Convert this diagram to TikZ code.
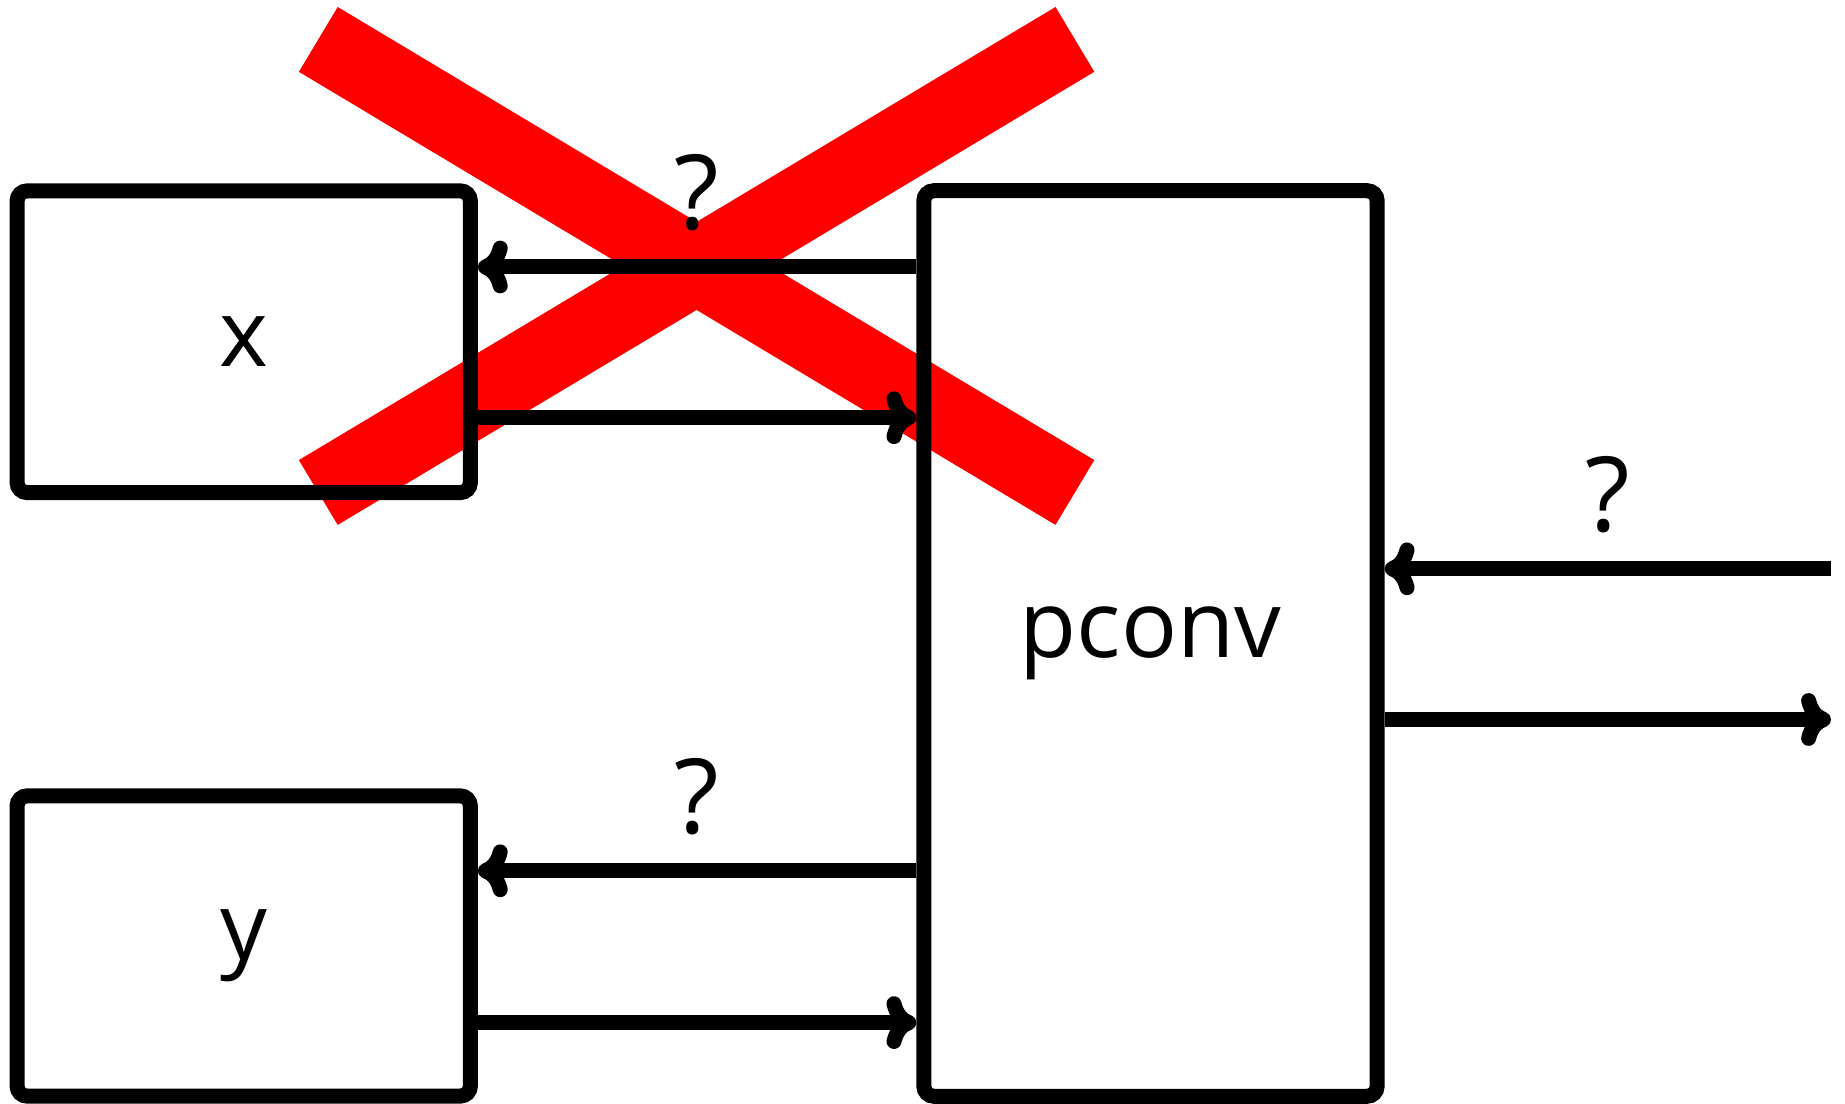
\documentclass[tikz,border=0pt]{standalone}
\usepackage{fontspec}
\setmainfont{Open Sans}
\usetikzlibrary{arrows.meta}
\begin{document}
\begin{tikzpicture}[x=0.01cm,y=-0.01cm,
  box/.style={draw=black,line width=0.15cm,rounded corners=0.1cm,inner sep=0pt,
    font=\fontsize{26.5pt}{32pt}\selectfont},
  conn/.style={line width=0.15cm,-{Computer Modern Rightarrow[length=8.5pt,width=15pt]}},
  lbl/.style={inner sep=0pt,font=\fontsize{29.5pt}{34pt}\selectfont},
  cross/.style={draw=red,line width=0.755cm}]
\useasboundingbox (0,0) rectangle (1845,1104);
% red cross
\draw[cross] (318.3,39.4) -- (1074.9,492.5);
\draw[cross] (1074.9,39.4) -- (318.3,492.5);
% boxes
\node[box,minimum width=4.53cm,minimum height=3.015cm] (x) at (243.7,341.75) {x};
\node[box,minimum width=4.53cm,minimum height=3.0cm] (y) at (243.7,946) {y};
\node[box,minimum width=4.53cm,minimum height=9.05cm] (p) at (1150.5,643.5) {pconv};
\coordinate (rin) at (1831,568.8);
\coordinate (rout) at (1831,719.5);
% connectors
\draw[conn] (p.west |- 0,267) -- node[lbl,midway,above=0.28cm] (q1) {?} (x.east |- 0,267);
\draw[conn] (x.east |- 0,417.7) -- (p.west |- 0,417.7);
\draw[conn] (p.west |- 0,870.8) -- node[lbl,midway,above=0.28cm] (q2) {?} (y.east |- 0,870.8);
\draw[conn] (y.east |- 0,1022.6) -- (p.west |- 0,1022.6);
\draw[conn] (rin) -- node[lbl,midway,above=0.28cm] (q3) {?} (p.east |- rin);
\draw[conn] (p.east |- rout) -- (rout);
\end{tikzpicture}
\end{document}
